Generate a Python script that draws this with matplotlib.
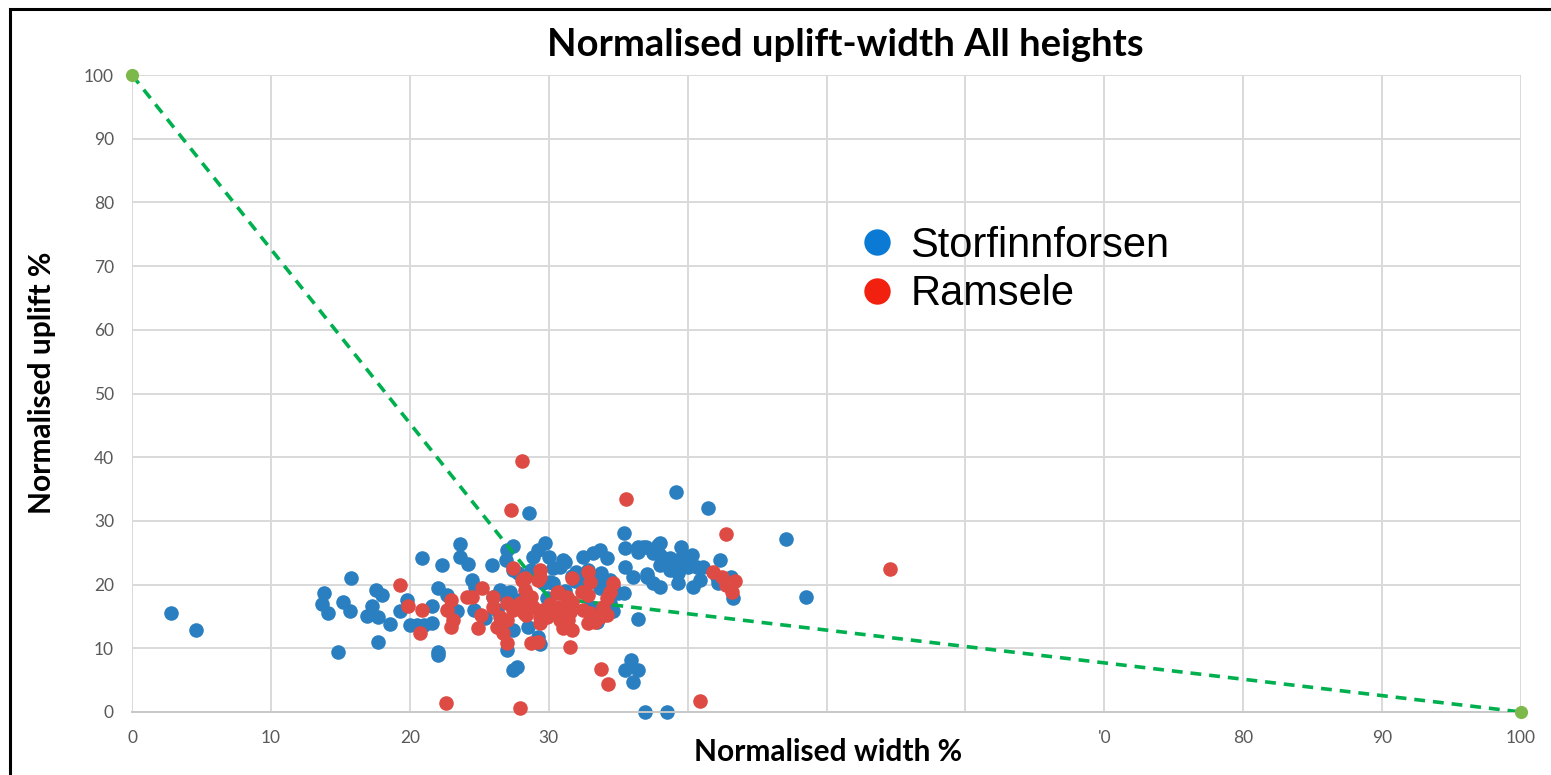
import matplotlib.pyplot as plt
from matplotlib.lines import Line2D
from matplotlib.patches import Rectangle

# normalised width / uplift (%) per measurement
stor_width = [
    2.8, 4.6, 13.8, 13.7, 14.1, 14.8, 15.2, 15.7, 15.8, 17.6, 18.0, 17.3, 16.9, 17.7,
    18.6, 17.7, 19.8, 19.3, 20.0, 20.5, 21.0, 21.6, 21.6, 22.0, 22.7, 22.0, 22.0, 20.9,
    22.3, 23.6, 23.6, 24.2, 25.9, 24.5, 24.7, 26.5, 26.0, 23.4, 25.4, 27.0, 26.9, 27.4,
    29.2, 29.7, 28.9, 30.0, 27.4, 27.8, 28.7, 28.6, 27.2, 26.9, 27.7, 30.3, 29.6, 29.9,
    29.2, 29.4, 27.0, 27.7, 27.4, 27.4, 31.0, 30.8, 32.5, 33.2, 33.7, 34.2, 35.4, 35.5,
    36.4, 37.0, 37.5, 38.0, 38.0, 38.2, 39.5, 39.5, 40.0, 38.7, 39.3, 40.7, 41.1, 40.9,
    35.5, 36.1, 37.1, 37.5, 38.0, 39.3, 40.4, 42.1, 43.1, 43.3, 35.4, 35.0, 34.4, 34.6,
    32.3, 32.0, 33.5, 33.7, 36.4, 35.9, 35.5, 36.4, 36.1, 36.9, 38.5, 39.2, 41.5, 47.1,
    48.5, 30.1, 33.5, 26.3, 24.6, 31.5, 31.2, 33.0, 28.5, 22.9, 31.2, 32.8, 33.8, 36.4,
    36.8, 37.9, 38.7, 39.2, 37.1, 38.0, 40.3, 42.3, 42.2, 34.4, 34.6, 31.7, 31.9, 30.3,
]
stor_uplift = [
    15.6, 12.9, 18.7, 16.9, 15.6, 9.4, 17.3, 15.9, 21.0, 19.2, 18.4, 16.6, 15.0, 14.9,
    13.8, 11.0, 17.6, 15.8, 13.7, 13.7, 13.7, 16.6, 14.0, 19.5, 18.4, 9.4, 8.9, 24.2,
    23.1, 26.3, 24.3, 23.3, 23.1, 20.7, 19.6, 19.2, 18.1, 15.9, 14.7, 25.4, 23.9, 26.0,
    25.4, 26.6, 24.3, 24.3, 22.3, 21.8, 22.3, 31.3, 18.9, 18.1, 17.6, 20.3, 20.3, 17.9,
    11.8, 10.7, 9.7, 7.0, 6.6, 12.9, 23.9, 22.8, 24.3, 25.0, 25.4, 24.2, 28.1, 25.8,
    25.9, 25.9, 25.0, 26.5, 24.6, 23.9, 25.9, 24.2, 22.8, 22.3, 21.8, 22.8, 22.8, 20.7,
    22.8, 21.2, 21.2, 20.3, 19.6, 20.3, 19.6, 21.2, 21.2, 17.9, 18.7, 18.7, 20.7, 19.6,
    20.7, 22.0, 20.7, 19.5, 14.6, 8.2, 6.6, 6.6, 4.7, 0.0, 0.0, 34.6, 32.1, 27.2,
    18.1, 20.4, 14.1, 16.0, 16.0, 17.3, 19.0, 16.5, 13.3, 15.9, 23.5, 22.3, 21.8, 25.1,
    25.9, 26.2, 24.2, 23.6, 21.7, 23.0, 24.6, 23.9, 20.3, 17.1, 15.9, 21.3, 20.5, 22.6,
]

ram_width = [
    19.3, 19.9, 20.9, 20.7, 23.0, 22.7, 23.1, 23.0, 24.1, 24.5, 25.2, 25.1, 24.9, 26.0,
    26.0, 26.5, 26.3, 27.4, 28.1, 28.3, 27.0, 27.4, 27.0, 26.7, 27.0, 29.4, 29.2, 28.7,
    28.9, 28.4, 29.4, 28.7, 29.2, 22.6, 27.9, 28.1, 27.3, 35.6, 42.8, 27.9, 28.5, 29.6,
    28.2, 29.4, 30.1, 30.6, 31.0, 31.7, 31.5, 31.7, 32.8, 33.0, 32.4, 32.8, 34.6, 34.4,
    34.2, 33.9, 34.2, 33.7, 33.3, 30.6, 31.3, 31.7, 30.8, 31.5, 31.4, 30.8, 30.1, 29.9,
    32.5, 33.0, 33.2, 32.8, 33.8, 34.3, 40.9, 41.8, 42.5, 43.4, 43.2, 42.8, 54.6, 30.7,
    29.4, 28.3,
]
ram_uplift = [
    19.9, 16.6, 16.0, 12.4, 17.6, 16.0, 14.4, 13.3, 18.1, 18.1, 19.5, 15.2, 13.2, 18.1,
    16.5, 14.9, 13.3, 22.6, 20.7, 19.2, 17.1, 16.0, 14.4, 12.4, 10.8, 22.3, 20.7, 18.1,
    16.5, 15.2, 14.0, 10.8, 11.0, 1.4, 0.7, 39.4, 31.7, 33.4, 27.9, 17.1, 17.1, 16.0,
    15.5, 14.9, 16.9, 16.0, 13.2, 12.9, 10.2, 21.0, 22.0, 20.4, 18.8, 18.4, 20.3, 18.8,
    17.9, 16.5, 15.2, 14.9, 14.1, 18.7, 18.1, 17.2, 16.5, 15.7, 14.4, 14.4, 16.0, 14.9,
    16.0, 15.5, 14.4, 13.9, 6.8, 4.4, 1.7, 22.0, 21.2, 20.6, 18.9, 19.9, 22.4, 18.8,
    21.2, 21.0,
]

# dashed reference line
ref_width = [0, 30, 100]
ref_uplift = [100, 18, 0]

site_names = ["Storfinnforsen", "Ramsele"]
xtick_vals = [0, 10, 20, 30, 40, 50, 60, 70, 80, 90, 100]
xtick_text = ["0", "10", "20", "30", "", "", "", "'0", "80", "90", "100"]
ytick_vals = [0, 10, 20, 30, 40, 50, 60, 70, 80, 90, 100]

W, H = 1551, 775
fig = plt.figure(figsize=(W / 100, H / 100), dpi=100)
ax = fig.add_axes([132 / W, 1 - 712 / H, (1521 - 132) / W, (712 - 75) / H])

ax.set_xlim(0, 100)
ax.set_ylim(0, 100)
ax.set_xticks(xtick_vals)
ax.set_xticklabels(xtick_text)
ax.set_yticks(ytick_vals)
ax.grid(True, color="#d9d9d9", linewidth=1.4)
ax.set_axisbelow(True)
for side in ["top", "right", "left"]:
    ax.spines[side].set_visible(False)
ax.spines["bottom"].set_color("#c8c8c8")
ax.spines["bottom"].set_linewidth(1.4)
ax.tick_params(length=0, labelsize=12.5, labelcolor="#595959", pad=13)
for lab in ax.get_xticklabels() + ax.get_yticklabels():
    lab.set_family("Lato")

ax.scatter(stor_width, stor_uplift, s=110, color="#2a7fc1", linewidths=0,
           zorder=2, clip_on=False)
ax.plot(ref_width, ref_uplift, color="#00b04f", linestyle=(0, (3, 2.2)),
        linewidth=2.6, zorder=3)
ax.scatter([ref_width[0], ref_width[-1]], [ref_uplift[0], ref_uplift[-1]], s=90,
           color="#7cb94a", linewidths=0, zorder=3, clip_on=False)
ax.scatter(ram_width, ram_uplift, s=110, color="#de4a44", linewidths=0,
           zorder=4, clip_on=False)

handles = [
    Line2D([], [], marker="o", linestyle="None", markersize=19,
           markerfacecolor="#0b7ad4", markeredgewidth=0),
    Line2D([], [], marker="o", linestyle="None", markersize=19,
           markerfacecolor="#f2200f", markeredgewidth=0),
]
ax.legend(handles, site_names, loc="upper left",
          bbox_to_anchor=(856 / W, 1 - 226 / H), bbox_transform=fig.transFigure,
          frameon=False, prop={"family": "Liberation Sans", "size": 30},
          handlelength=1.0, handletextpad=0.3, labelspacing=0.2,
          borderpad=0, borderaxespad=0)

fig.text(845 / W, 1 - 45 / H, "Normalised uplift-width All heights",
         ha="center", va="center", fontsize=27.5, fontweight="bold", family="Lato")
fig.text(828 / W, 1 - 752 / H, "Normalised width %", ha="center", va="center",
         fontsize=21.5, fontweight="bold", family="Lato")
fig.text(42 / W, 1 - 383 / H, "Normalised uplift %", ha="center", va="center",
         rotation=90, fontsize=21.5, fontweight="bold", family="Lato")

# outer frame (only top and left edges fall inside the image)
fig.patches.append(Rectangle((9.5 / W, -0.1), 1.2, 1.1 - 8.5 / H,
                             transform=fig.transFigure, fill=False,
                             edgecolor="black", linewidth=2.2))

fig.savefig("out.png", dpi=100)
